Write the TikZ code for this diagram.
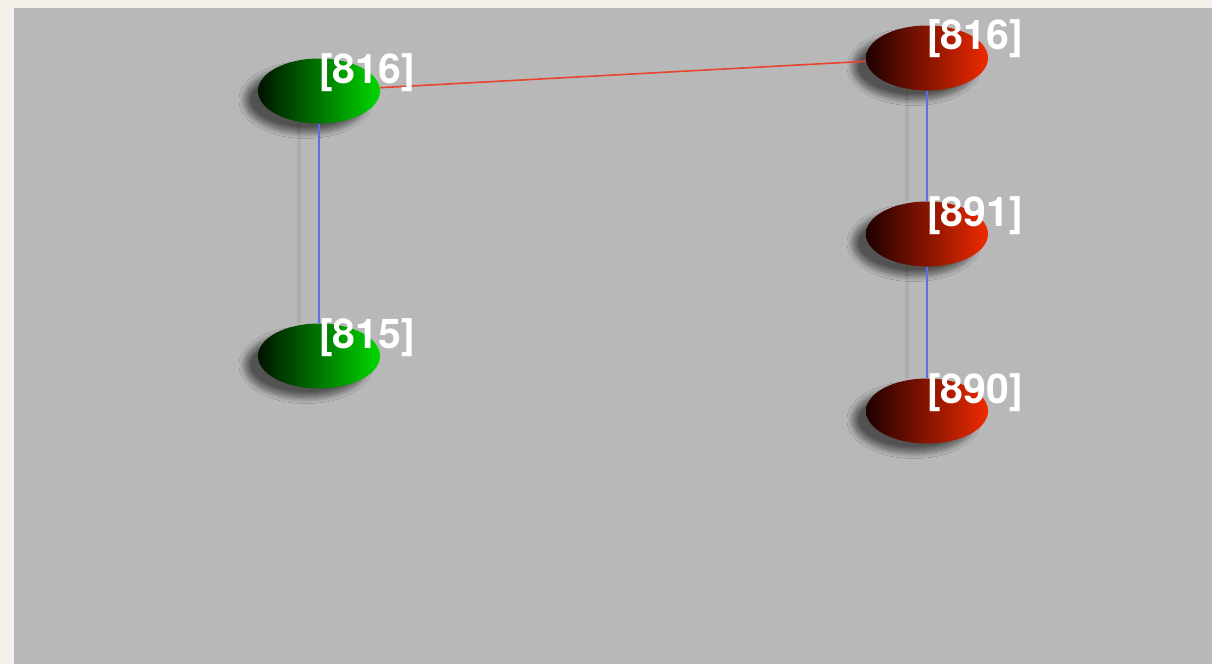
\documentclass[tikz,border=0pt]{standalone}
\usepackage{fontspec}
\setmainfont{TeX Gyre Heros}
\usetikzlibrary{shapes.geometric,shadows.blur}
\definecolor{paper}{HTML}{F4F1EA}
\definecolor{panel}{HTML}{B8B8B8}
\definecolor{linkblue}{HTML}{5A6EE8}
\definecolor{linkred}{HTML}{E8442E}
\definecolor{gdark}{HTML}{001400}
\definecolor{gmid}{HTML}{007A00}
\definecolor{glight}{HTML}{00D800}
\definecolor{rdark}{HTML}{1E0000}
\definecolor{rmid}{HTML}{A01200}
\definecolor{rlight}{HTML}{F02A00}
\tikzset{
  ball/.style={ellipse, minimum width=122pt, minimum height=65pt, inner sep=0pt,
    blur shadow={shadow xshift=-13pt, shadow yshift=-9pt, shadow blur radius=6pt,
      shadow blur steps=12, shadow opacity=55}},
  greenball/.style={ball, left color=gdark, middle color=gmid, right color=glight},
  redball/.style={ball, left color=rdark, middle color=rmid, right color=rlight},
  tag/.style={anchor=base west, inner sep=0pt, text=white,
    font=\bfseries\fontsize{41}{41}\selectfont},
  bluelink/.style={draw=linkblue, line width=2.2pt,
    preaction={draw=black, opacity=0.06, line width=4pt, transform canvas={xshift=-20pt}}},
  redlink/.style={draw=linkred, line width=1.6pt},
}
\begin{document}
\begin{tikzpicture}[x=1pt,y=-1pt]
  % page and viewing panel
  \fill[paper] (0,0) rectangle (1212,664);
  \useasboundingbox (0,0) rectangle (1212,664);
  \fill[white!85!panel] (11,8) rectangle (16,664);
  \fill[panel] (14,8) rectangle (1212,664);

  % nodes
  \node[greenball] (g816) at (319,91) {};
  \node[greenball] (g815) at (319,356) {};
  \node[redball] (r816) at (927,58) {};
  \node[redball] (r891) at (927,234) {};
  \node[redball] (r890) at (927,411) {};

  % links
  \draw[redlink] (g816) -- (r816);
  \draw[bluelink] (g816) -- (g815);
  \draw[bluelink] (r816) -- (r891);
  \draw[bluelink] (r891) -- (r890);

  % labels
  \node[tag] (tg816) at (319,83) {[816]};
  \node[tag] (tg815) at (319,348) {[815]};
  \node[tag] (tr816) at (927,49) {[816]};
  \node[tag] (tr891) at (927,226) {[891]};
  \node[tag] (tr890) at (927,403) {[890]};
\end{tikzpicture}
\end{document}
